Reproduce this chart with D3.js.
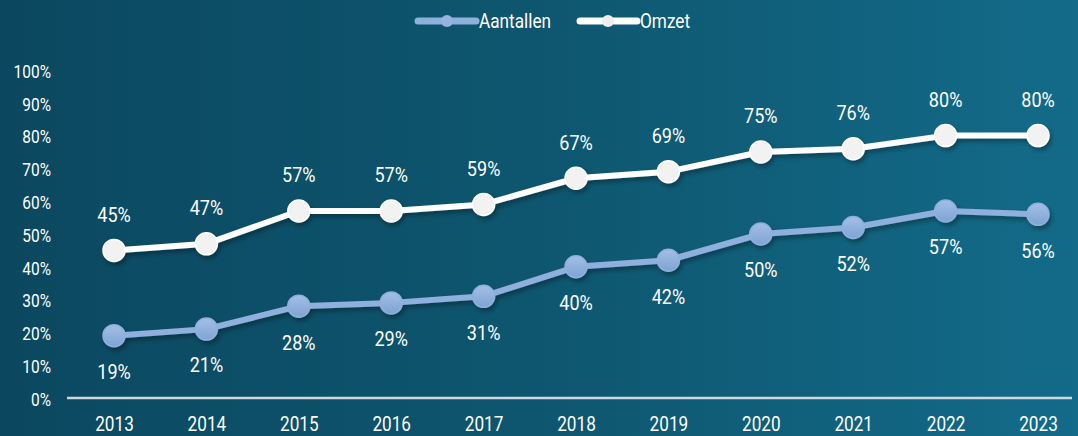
<!DOCTYPE html>
<html><head><meta charset="utf-8">
<script src="https://cdn.jsdelivr.net/npm/d3@7/dist/d3.min.js"></script>
<style>html,body{margin:0;padding:0;overflow:hidden;background:#0d4b63}</style>
</head><body>
<svg id="c" width="1078" height="436"></svg>
<script>
const years = ["2013","2014","2015","2016","2017","2018","2019","2020","2021","2022","2023"];
const aantallen = [19,21,28,29,31,40,42,50,52,57,56];
const omzet = [45,47,57,57,59,67,69,75,76,80,80];
const yTicks = [0,10,20,30,40,50,60,70,80,90,100];
const seriesNames = ["Aantallen","Omzet"];

const W=1078,H=436;
const SX=0.86;
const svg=d3.select("#c");
const defs=svg.append("defs");
const bg=defs.append("linearGradient").attr("id","bg").attr("x1","0").attr("x2","1").attr("y1","0").attr("y2","0");
bg.append("stop").attr("offset","0").attr("stop-color","#0b4860");
bg.append("stop").attr("offset","0.5").attr("stop-color","#0e566f");
bg.append("stop").attr("offset","1").attr("stop-color","#136b89");
const mg=defs.append("linearGradient").attr("id","mg").attr("x1","0").attr("x2","0").attr("y1","0").attr("y2","1");
mg.append("stop").attr("offset","0").attr("stop-color","#a3bfe6");
mg.append("stop").attr("offset","1").attr("stop-color","#7fa3d4");
const f=defs.append("filter").attr("id","sh").attr("x","-50%").attr("y","-50%").attr("width","200%").attr("height","200%");
f.append("feDropShadow").attr("dx",2).attr("dy",3).attr("stdDeviation",2.5).attr("flood-color","#000").attr("flood-opacity",0.35);

svg.append("rect").attr("width",W).attr("height",H).attr("fill","url(#bg)");

const font="Roboto, 'Noto Sans', sans-serif";
const x=d3.scalePoint().domain(years).range([114,1038]);
const y=d3.scaleLinear().domain([0,100]).range([398,70]);

// y axis labels
const ya=svg.append("g").attr("transform","translate(51,0)").call(d3.axisLeft(y).tickValues(yTicks).tickFormat(d=>d+"%").tickSize(0).tickPadding(0));
ya.select(".domain").remove();
ya.selectAll("text").attr("fill","#ffffff").style("font-family",font).style("font-size","18px").attr("dy","0.35em").attr("y",1).attr("transform",`scale(${SX},1)`);

// x axis
const xa=svg.append("g").attr("transform","translate(0,398)").call(d3.axisBottom(x).tickSize(0).tickPadding(0));
xa.select(".domain").remove();
xa.selectAll("text").attr("fill","#ffffff").style("font-family",font).style("font-size","20px").attr("y",26).attr("dy","0.35em").attr("transform",`scale(${SX},1)`);
svg.append("line").attr("x1",67).attr("x2",1072).attr("y1",398).attr("y2",398).attr("stroke","#d0d8de").attr("stroke-width",2.5);

const line=d3.line().x((d,i)=>x(years[i])).y(d=>y(d));
const cfg=[
 {data:aantallen,stroke:"#8fb0dd",fill:"url(#mg)",mstroke:"#8fb0dd",dy:36},
 {data:omzet,stroke:"#ffffff",fill:"#f2f2f2",mstroke:"#ffffff",dy:-36}
];
cfg.forEach(c=>{
  const g=svg.append("g").attr("filter","url(#sh)");
  g.append("path").datum(c.data).attr("d",line).attr("fill","none").attr("stroke",c.stroke).attr("stroke-width",6).attr("stroke-linejoin","round");
  g.selectAll("circle").data(c.data).join("circle").attr("cx",(d,i)=>x(years[i])).attr("cy",d=>y(d)).attr("r",11).attr("fill",c.fill).attr("stroke",c.mstroke).attr("stroke-width",1.5);
});
cfg.forEach(c=>{
  svg.append("g").selectAll("text").data(c.data).join("text")
   .attr("transform",(d,i)=>`translate(${x(years[i])},${y(d)+c.dy}) scale(${SX},1)`).attr("dy","0.35em")
   .attr("text-anchor","middle").attr("fill","#ffffff").style("font-family",font).style("font-size","21px")
   .text(d=>d+"%");
});

// legend
const leg=[{x1:418,x2:476,cx:447,tx:479,stroke:"#8fb0dd",fill:"#94b3de",name:seriesNames[0]},
           {x1:580,x2:637,cx:608,tx:640,stroke:"#ffffff",fill:"#eeeeee",name:seriesNames[1]}];
leg.forEach(l=>{
  svg.append("line").attr("x1",l.x1).attr("x2",l.x2).attr("y1",21).attr("y2",21).attr("stroke",l.stroke).attr("stroke-width",7).attr("stroke-linecap","round");
  svg.append("circle").attr("cx",l.cx).attr("cy",21).attr("r",6).attr("fill",l.fill);
  svg.append("text").attr("transform",`translate(${l.tx},21) scale(${SX},1)`).attr("dy","0.35em").attr("fill","#fff").style("font-family",font).style("font-size","20px").text(l.name);
});
</script>
</body></html>
